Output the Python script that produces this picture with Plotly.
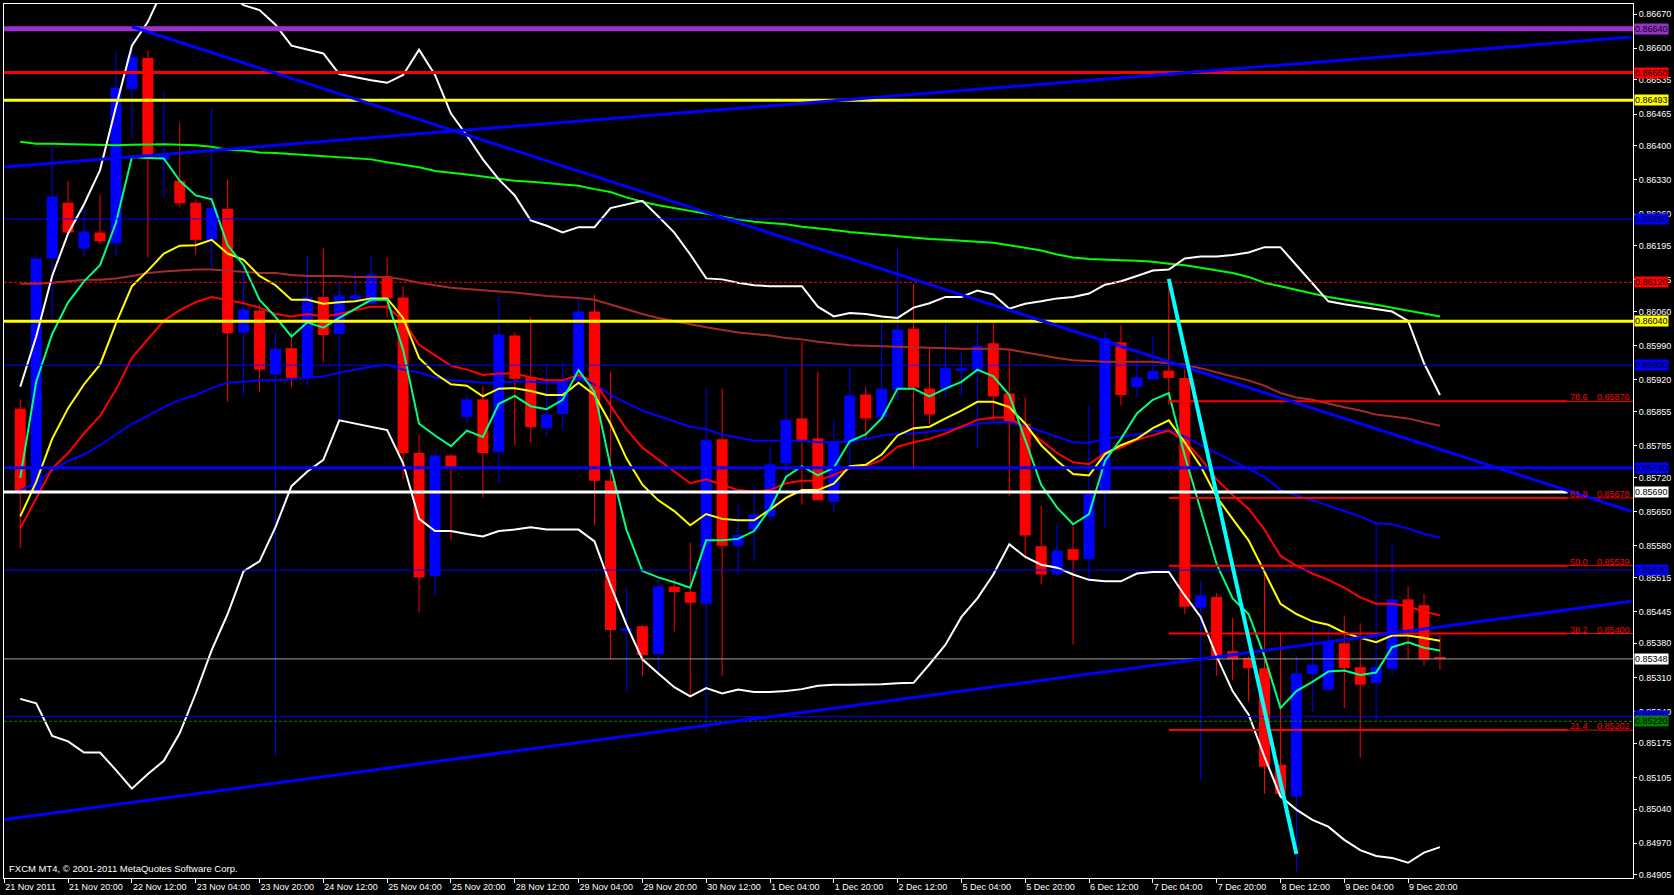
import plotly.graph_objects as go

# ---------------- data ----------------
tick_bars = list(range(-1, 88, 4))
tick_text = ["21 Nov 2011", "21 Nov 20:00", "22 Nov 12:00", "23 Nov 04:00", "23 Nov 20:00",
             "24 Nov 12:00", "25 Nov 04:00", "25 Nov 20:00", "28 Nov 12:00", "29 Nov 04:00",
             "29 Nov 20:00", "30 Nov 12:00", "1 Dec 04:00", "1 Dec 20:00", "2 Dec 12:00",
             "5 Dec 04:00", "5 Dec 20:00", "6 Dec 12:00", "7 Dec 04:00", "7 Dec 20:00",
             "8 Dec 12:00", "9 Dec 04:00", "9 Dec 20:00"]

bar_index = list(range(90))

opens = [0.85861, 0.85691, 0.86169, 0.86283, 0.86189, 0.86222, 0.86200, 0.86516, 0.86580, 0.86372,
         0.86328, 0.86283, 0.86207, 0.86271, 0.86017, 0.86062, 0.85931, 0.85985, 0.85924, 0.86090,
         0.86014, 0.86085, 0.86076, 0.86132, 0.86089, 0.85770, 0.85518, 0.85765, 0.85844, 0.85880,
         0.85772, 0.86011, 0.85925, 0.85821, 0.85850, 0.85919, 0.86060, 0.85713, 0.85407, 0.85415,
         0.85358, 0.85496, 0.85485, 0.85461, 0.85798, 0.85580, 0.85613, 0.85640, 0.85749, 0.85841,
         0.85800, 0.85670, 0.85791, 0.85890, 0.85843, 0.85900, 0.86025, 0.85902, 0.85902, 0.85940,
         0.85941, 0.85995, 0.85892, 0.85830, 0.85579, 0.85521, 0.85573, 0.85553, 0.85686, 0.85997,
         0.85905, 0.85921, 0.85939, 0.85924, 0.85453, 0.85475, 0.85364, 0.85350, 0.85329, 0.85131,
         0.85066, 0.85317, 0.85285, 0.85380, 0.85331, 0.85299, 0.85328, 0.85470, 0.85458, 0.85352]

highs = [0.85880, 0.86177, 0.86407, 0.86328, 0.86274, 0.86300, 0.86593, 0.86621, 0.86595, 0.86511,
         0.86448, 0.86290, 0.86477, 0.86331, 0.86150, 0.86074, 0.86018, 0.86019, 0.86175, 0.86191,
         0.86123, 0.86142, 0.86175, 0.86171, 0.86112, 0.85808, 0.85776, 0.85767, 0.85889, 0.85906,
         0.86092, 0.86017, 0.86049, 0.85954, 0.85958, 0.86094, 0.86095, 0.85935, 0.85496, 0.85418,
         0.85515, 0.85512, 0.85586, 0.85902, 0.85902, 0.85665, 0.85702, 0.85783, 0.85947, 0.85997,
         0.85937, 0.85837, 0.85944, 0.85906, 0.86039, 0.86190, 0.86117, 0.85986, 0.86036, 0.85978,
         0.86041, 0.86036, 0.85984, 0.85884, 0.85662, 0.85624, 0.85624, 0.85868, 0.86019, 0.86032,
         0.85967, 0.86009, 0.86127, 0.85942, 0.85508, 0.85483, 0.85432, 0.85353, 0.85532, 0.85402,
         0.85353, 0.85418, 0.85413, 0.85437, 0.85421, 0.85627, 0.85586, 0.85496, 0.85481, 0.85396]

lows = [0.85575, 0.85667, 0.86041, 0.86220, 0.86173, 0.86198, 0.86173, 0.86417, 0.86171, 0.86293,
        0.86274, 0.86177, 0.86150, 0.85875, 0.85889, 0.85895, 0.85150, 0.85906, 0.85908, 0.85957,
        0.85839, 0.86081, 0.86076, 0.86047, 0.85716, 0.85443, 0.85478, 0.85591, 0.85830, 0.85678,
        0.85708, 0.85786, 0.85791, 0.85802, 0.85817, 0.85908, 0.85622, 0.85347, 0.85282, 0.85312,
        0.85320, 0.85404, 0.85271, 0.85196, 0.85313, 0.85521, 0.85548, 0.85629, 0.85721, 0.85664,
        0.85673, 0.85649, 0.85743, 0.85797, 0.85841, 0.85879, 0.85736, 0.85830, 0.85884, 0.85887,
        0.85781, 0.85837, 0.85681, 0.85559, 0.85501, 0.85518, 0.85377, 0.85512, 0.85616, 0.85867,
        0.85882, 0.85921, 0.85868, 0.85440, 0.85098, 0.85313, 0.85304, 0.85261, 0.85071, 0.85066,
        0.84910, 0.85239, 0.85285, 0.85247, 0.85145, 0.85221, 0.85315, 0.85347, 0.85334, 0.85326]

closes = [0.85691, 0.86169, 0.86296, 0.86222, 0.86224, 0.86204, 0.86519, 0.86582, 0.86372, 0.86380,
          0.86282, 0.86207, 0.86272, 0.86016, 0.86064, 0.85941, 0.85983, 0.85924, 0.86090, 0.86012,
          0.86093, 0.86093, 0.86136, 0.86087, 0.85770, 0.85515, 0.85765, 0.85737, 0.85880, 0.85770,
          0.86013, 0.85922, 0.85823, 0.85849, 0.85919, 0.86060, 0.85713, 0.85407, 0.85411, 0.85356,
          0.85496, 0.85485, 0.85463, 0.85796, 0.85580, 0.85602, 0.85644, 0.85747, 0.85838, 0.85797,
          0.85673, 0.85792, 0.85888, 0.85841, 0.85902, 0.86023, 0.85904, 0.85849, 0.85944, 0.85944,
          0.85990, 0.85886, 0.85833, 0.85601, 0.85521, 0.85570, 0.85551, 0.85686, 0.86005, 0.85889,
          0.85925, 0.85938, 0.85924, 0.85455, 0.85478, 0.85353, 0.85347, 0.85329, 0.85127, 0.85071,
          0.85318, 0.85336, 0.85382, 0.85329, 0.85295, 0.85331, 0.85470, 0.85407, 0.85347, 0.85348]

ma_fast = [0.85719, 0.85916, 0.86014, 0.86079, 0.86122, 0.86155, 0.86242, 0.86377, 0.86375, 0.86374,
           0.86328, 0.86298, 0.86290, 0.86196, 0.86155, 0.86084, 0.86049, 0.86009, 0.86038, 0.86027,
           0.86047, 0.86066, 0.86084, 0.86084, 0.85982, 0.85830, 0.85806, 0.85784, 0.85816, 0.85803,
           0.85871, 0.85887, 0.85866, 0.85860, 0.85879, 0.85940, 0.85895, 0.85743, 0.85613, 0.85528,
           0.85515, 0.85505, 0.85494, 0.85591, 0.85591, 0.85594, 0.85610, 0.85656, 0.85721, 0.85743,
           0.85724, 0.85740, 0.85794, 0.85808, 0.85841, 0.85902, 0.85902, 0.85886, 0.85902, 0.85916,
           0.85941, 0.85927, 0.85889, 0.85797, 0.85705, 0.85658, 0.85624, 0.85645, 0.85754, 0.85799,
           0.85851, 0.85879, 0.85893, 0.85765, 0.85656, 0.85542, 0.85472, 0.85440, 0.85353, 0.85247,
           0.85282, 0.85301, 0.85322, 0.85324, 0.85315, 0.85320, 0.85372, 0.85382, 0.85371, 0.85365]

ma_yellow = [0.85640, 0.85711, 0.85799, 0.85862, 0.85911, 0.85951, 0.86036, 0.86112, 0.86144, 0.86179,
             0.86195, 0.86196, 0.86207, 0.86179, 0.86166, 0.86133, 0.86114, 0.86084, 0.86084, 0.86076,
             0.86079, 0.86081, 0.86087, 0.86087, 0.86047, 0.85965, 0.85933, 0.85911, 0.85908, 0.85886,
             0.85902, 0.85903, 0.85897, 0.85889, 0.85889, 0.85914, 0.85889, 0.85830, 0.85759, 0.85705,
             0.85673, 0.85651, 0.85622, 0.85645, 0.85635, 0.85632, 0.85632, 0.85654, 0.85678, 0.85694,
             0.85694, 0.85707, 0.85743, 0.85746, 0.85767, 0.85806, 0.85821, 0.85824, 0.85841, 0.85857,
             0.85875, 0.85875, 0.85864, 0.85830, 0.85786, 0.85754, 0.85727, 0.85724, 0.85768, 0.85786,
             0.85799, 0.85821, 0.85837, 0.85792, 0.85743, 0.85680, 0.85635, 0.85591, 0.85526, 0.85461,
             0.85440, 0.85425, 0.85418, 0.85402, 0.85391, 0.85382, 0.85396, 0.85396, 0.85391, 0.85385]

ma_red = [0.85616, 0.85678, 0.85738, 0.85770, 0.85810, 0.85846, 0.85900, 0.85965, 0.86003, 0.86041,
          0.86063, 0.86079, 0.86090, 0.86084, 0.86077, 0.86068, 0.86055, 0.86050, 0.86055, 0.86050,
          0.86055, 0.86063, 0.86070, 0.86070, 0.86041, 0.85992, 0.85971, 0.85949, 0.85941, 0.85930,
          0.85933, 0.85933, 0.85925, 0.85919, 0.85919, 0.85930, 0.85916, 0.85868, 0.85819, 0.85781,
          0.85756, 0.85732, 0.85708, 0.85716, 0.85705, 0.85694, 0.85691, 0.85694, 0.85708, 0.85713,
          0.85713, 0.85725, 0.85738, 0.85743, 0.85756, 0.85783, 0.85792, 0.85799, 0.85810, 0.85824,
          0.85838, 0.85843, 0.85843, 0.85821, 0.85795, 0.85770, 0.85751, 0.85747, 0.85770, 0.85781,
          0.85797, 0.85806, 0.85816, 0.85795, 0.85759, 0.85716, 0.85684, 0.85656, 0.85613, 0.85559,
          0.85539, 0.85523, 0.85510, 0.85494, 0.85474, 0.85461, 0.85461, 0.85456, 0.85445, 0.85437]

ma_blue = [0.85694, 0.85708, 0.85734, 0.85754, 0.85767, 0.85786, 0.85808, 0.85830, 0.85846, 0.85864,
           0.85879, 0.85889, 0.85903, 0.85914, 0.85916, 0.85919, 0.85919, 0.85921, 0.85925, 0.85927,
           0.85935, 0.85941, 0.85947, 0.85951, 0.85941, 0.85935, 0.85925, 0.85919, 0.85916, 0.85914,
           0.85914, 0.85916, 0.85916, 0.85914, 0.85914, 0.85924, 0.85911, 0.85889, 0.85873, 0.85857,
           0.85846, 0.85835, 0.85824, 0.85819, 0.85808, 0.85802, 0.85795, 0.85795, 0.85795, 0.85795,
           0.85792, 0.85792, 0.85794, 0.85799, 0.85806, 0.85810, 0.85810, 0.85814, 0.85817, 0.85823,
           0.85830, 0.85833, 0.85833, 0.85826, 0.85814, 0.85803, 0.85792, 0.85791, 0.85799, 0.85803,
           0.85808, 0.85814, 0.85817, 0.85803, 0.85786, 0.85770, 0.85754, 0.85738, 0.85721, 0.85694,
           0.85684, 0.85673, 0.85662, 0.85651, 0.85640, 0.85626, 0.85624, 0.85615, 0.85604, 0.85597]

ma_brown = [0.86117, 0.86117, 0.86119, 0.86122, 0.86125, 0.86125, 0.86128, 0.86133, 0.86139, 0.86142,
            0.86144, 0.86146, 0.86146, 0.86144, 0.86142, 0.86139, 0.86139, 0.86135, 0.86133, 0.86133,
            0.86133, 0.86131, 0.86131, 0.86131, 0.86126, 0.86119, 0.86114, 0.86109, 0.86106, 0.86103,
            0.86101, 0.86099, 0.86095, 0.86092, 0.86090, 0.86088, 0.86084, 0.86074, 0.86065, 0.86055,
            0.86047, 0.86040, 0.86034, 0.86028, 0.86023, 0.86017, 0.86014, 0.86011, 0.86006, 0.86003,
            0.85998, 0.85995, 0.85991, 0.85990, 0.85989, 0.85987, 0.85986, 0.85985, 0.85984, 0.85984,
            0.85984, 0.85984, 0.85982, 0.85976, 0.85971, 0.85965, 0.85960, 0.85958, 0.85957, 0.85957,
            0.85957, 0.85957, 0.85954, 0.85951, 0.85944, 0.85935, 0.85927, 0.85919, 0.85908, 0.85893,
            0.85884, 0.85879, 0.85871, 0.85864, 0.85857, 0.85849, 0.85845, 0.85841, 0.85833, 0.85826]

ma_lime = [0.86408, 0.86404, 0.86404, 0.86403, 0.86402, 0.86401, 0.86401, 0.86402, 0.86403, 0.86403,
           0.86402, 0.86401, 0.86398, 0.86391, 0.86390, 0.86386, 0.86385, 0.86383, 0.86380, 0.86378,
           0.86376, 0.86374, 0.86372, 0.86366, 0.86361, 0.86356, 0.86348, 0.86345, 0.86341, 0.86337,
           0.86333, 0.86328, 0.86326, 0.86323, 0.86320, 0.86318, 0.86311, 0.86305, 0.86294, 0.86285,
           0.86278, 0.86272, 0.86266, 0.86260, 0.86255, 0.86249, 0.86244, 0.86241, 0.86239, 0.86234,
           0.86231, 0.86227, 0.86223, 0.86220, 0.86217, 0.86214, 0.86211, 0.86209, 0.86207, 0.86205,
           0.86203, 0.86201, 0.86196, 0.86191, 0.86185, 0.86177, 0.86171, 0.86168, 0.86166, 0.86165,
           0.86164, 0.86162, 0.86158, 0.86155, 0.86150, 0.86144, 0.86139, 0.86131, 0.86119, 0.86112,
           0.86104, 0.86097, 0.86090, 0.86084, 0.86079, 0.86074, 0.86068, 0.86063, 0.86057, 0.86050]

bb_upper = [0.85906, 0.86009, 0.86133, 0.86220, 0.86280, 0.86350, 0.86480, 0.86605, 0.86654, 0.86724,
            0.86746, 0.86751, 0.86740, 0.86713, 0.86688, 0.86678, 0.86648, 0.86605, 0.86597, 0.86589,
            0.86547, 0.86540, 0.86534, 0.86529, 0.86545, 0.86597, 0.86545, 0.86466, 0.86421, 0.86372,
            0.86331, 0.86298, 0.86247, 0.86236, 0.86222, 0.86233, 0.86233, 0.86272, 0.86280, 0.86287,
            0.86255, 0.86222, 0.86177, 0.86128, 0.86126, 0.86119, 0.86114, 0.86112, 0.86112, 0.86112,
            0.86070, 0.86050, 0.86057, 0.86055, 0.86050, 0.86047, 0.86068, 0.86077, 0.86090, 0.86090,
            0.86103, 0.86095, 0.86066, 0.86076, 0.86081, 0.86087, 0.86090, 0.86097, 0.86115, 0.86122,
            0.86133, 0.86144, 0.86146, 0.86169, 0.86173, 0.86173, 0.86176, 0.86181, 0.86192, 0.86192,
            0.86155, 0.86117, 0.86081, 0.86075, 0.86070, 0.86064, 0.86060, 0.86041, 0.85954, 0.85889]

bb_lower = [0.85266, 0.85257, 0.85190, 0.85179, 0.85156, 0.85156, 0.85120, 0.85082, 0.85112, 0.85139,
            0.85196, 0.85277, 0.85366, 0.85440, 0.85528, 0.85548, 0.85618, 0.85702, 0.85732, 0.85756,
            0.85837, 0.85830, 0.85823, 0.85817, 0.85749, 0.85635, 0.85610, 0.85610, 0.85604, 0.85599,
            0.85610, 0.85613, 0.85618, 0.85613, 0.85613, 0.85613, 0.85589, 0.85499, 0.85418, 0.85347,
            0.85318, 0.85290, 0.85271, 0.85288, 0.85277, 0.85285, 0.85280, 0.85280, 0.85282, 0.85286,
            0.85293, 0.85295, 0.85295, 0.85295, 0.85296, 0.85298, 0.85299, 0.85337, 0.85377, 0.85434,
            0.85472, 0.85521, 0.85583, 0.85557, 0.85541, 0.85535, 0.85521, 0.85510, 0.85507, 0.85507,
            0.85523, 0.85526, 0.85526, 0.85478, 0.85434, 0.85353, 0.85282, 0.85234, 0.85147, 0.85066,
            0.85039, 0.85018, 0.85004, 0.84977, 0.84956, 0.84944, 0.84940, 0.84930, 0.84951, 0.84962]

price_ticks = [0.86670, 0.86600, 0.86535, 0.86465, 0.86400, 0.86330, 0.86260, 0.86195, 0.86125,
               0.86060, 0.85990, 0.85920, 0.85855, 0.85785, 0.85720, 0.85650, 0.85580, 0.85515,
               0.85445, 0.85380, 0.85310, 0.85240, 0.85175, 0.85105, 0.85040, 0.84970, 0.84905]

hline_prices = [0.86640, 0.86550, 0.86493, 0.86250, 0.86120, 0.86040, 0.85950, 0.85740,
                0.85690, 0.85530, 0.85348, 0.85230, 0.85220]

fibo_levels = ["78.6", "61.8", "50.0", "38.2", "21.4"]
fibo_prices = [0.85876, 0.85678, 0.85539, 0.85400, 0.85202]
fibo_bars = (72, 97)

trend_lines = [(-1, 0.850188, 101, 0.854662),
               (-1, 0.863563, 101, 0.866228),
               (7, 0.866438, 101, 0.856507)]
cyan_line = (72, 0.86127, 80, 0.84948)

copyright_text = "FXCM MT4, © 2001-2011 MetaQuotes Software Corp."

# ---------------- styles ----------------
X_RANGE = [-1.019, 101.1]
Y_RANGE = [0.848988, 0.866905]
FONT = "Liberation Sans, Arial, sans-serif"
BULL, BEAR = "#0000FF", "#FF0000"

hline_colors = ["#9932CC", "#FF0000", "#FFFF00", "#0000FF", "#FF0000", "#FFFF00", "#0000FF",
                "#0000FF", "#FFFFFF", "#0000FF", "#A0A0A0", "#0000FF", "#008000"]
hline_widths = [5, 3, 3, 1, 1, 3, 1, 3, 3, 1, 1, 1, 1]
hline_dash = ["solid", "solid", "solid", "solid", "3px,2px", "solid", "solid", "solid",
              "solid", "solid", "solid", "solid", "3px,2px"]
label_bg = ["#9932CC", "#FF0000", "#FFFF00", "#0000FF", "#FF0000", "#FFFF00", "#0000FF",
            "#0000FF", "#FFFFFF", "#0000FF", "#FFFFFF", "#0000FF", "#008000"]

fig = go.Figure()

# candles: wicks then bodies
for color, cond in ((BULL, lambda i: closes[i] >= opens[i]), (BEAR, lambda i: closes[i] < opens[i])):
    idx = [i for i in bar_index if cond(i)]
    wx, wy = [], []
    for i in idx:
        wx += [i, i, None]
        wy += [lows[i], highs[i], None]
    fig.add_trace(go.Scatter(x=wx, y=wy, mode="lines", line=dict(color=color, width=1),
                             hoverinfo="skip", showlegend=False))
    fig.add_trace(go.Bar(x=idx,
                         y=[abs(closes[i] - opens[i]) for i in idx],
                         base=[min(opens[i], closes[i]) for i in idx],
                         width=0.69, marker=dict(color=color, line=dict(width=0)),
                         hoverinfo="skip", showlegend=False))

# indicator lines
for series, color in ((ma_lime, "#00FF00"), (ma_brown, "#A52A2A"), (bb_upper, "#FFFFFF"),
                      (bb_lower, "#FFFFFF"), (ma_blue, "#0000FF"), (ma_red, "#FF0000"),
                      (ma_yellow, "#FFFF00"), (ma_fast, "#00FF7F")):
    fig.add_trace(go.Scatter(x=bar_index, y=series, mode="lines",
                             line=dict(color=color, width=2), hoverinfo="skip", showlegend=False))

shapes = []
# horizontal lines
for p, c, w, d in zip(hline_prices, hline_colors, hline_widths, hline_dash):
    x1 = fibo_bars[1] if c == "#FFFFFF" else X_RANGE[1]
    shapes.append(dict(type="line", xref="x", yref="y", x0=X_RANGE[0], x1=x1, y0=p, y1=p,
                       line=dict(color=c, width=w, dash=d), layer="above"))
# fibonacci levels
for p in fibo_prices:
    shapes.append(dict(type="line", xref="x", yref="y", x0=fibo_bars[0], x1=fibo_bars[1], y0=p, y1=p,
                       line=dict(color="#FF0000", width=2), layer="above"))
    shapes.append(dict(type="line", xref="x", yref="y", x0=fibo_bars[1], x1=X_RANGE[1], y0=p, y1=p,
                       line=dict(color="#FF0000", width=1), layer="above"))
# trend lines
for x0, y0, x1, y1 in trend_lines:
    shapes.append(dict(type="line", xref="x", yref="y", x0=x0, y0=y0, x1=x1, y1=y1,
                       line=dict(color="#0000FF", width=3), layer="above"))
shapes.append(dict(type="line", xref="x", yref="y", x0=cyan_line[0], y0=cyan_line[1],
                   x1=cyan_line[2], y1=cyan_line[3], line=dict(color="#00FFFF", width=4), layer="above"))

annotations = []
for lvl, p in zip(fibo_levels, fibo_prices):
    annotations.append(dict(xref="paper", yref="y", x=0.9602, y=p, text=lvl, showarrow=False,
                            xanchor="left", yanchor="bottom", yshift=-3,
                            font=dict(family=FONT, size=9, color="#FF0000")))
    annotations.append(dict(xref="paper", yref="y", x=0.9994, y=p, text=f"{p:.5f}", showarrow=False,
                            xanchor="right", yanchor="bottom", yshift=-3,
                            font=dict(family=FONT, size=9, color="#FF0000")))
for p, bg in zip(hline_prices, label_bg):
    annotations.append(dict(xref="paper", yref="y", x=1, y=p, text=f"{p:.5f}", showarrow=False,
                            xanchor="left", yanchor="middle", xshift=1, bgcolor=bg, borderpad=0,
                            font=dict(family=FONT, size=9, color="#000000")))
annotations.append(dict(xref="paper", yref="paper", x=0, y=0, text=copyright_text, showarrow=False,
                        xanchor="left", yanchor="bottom", xshift=3, yshift=2,
                        font=dict(family=FONT, size=9.5, color="#FFFFFF")))

fig.update_layout(
    width=1674, height=895,
    margin=dict(l=3, r=37, t=3, b=17),
    paper_bgcolor="#000000", plot_bgcolor="#000000",
    barmode="overlay", showlegend=False,
    shapes=shapes, annotations=annotations,
    xaxis=dict(range=X_RANGE, tickmode="array", tickvals=tick_bars, ticktext=tick_text,
               ticks="outside", ticklen=4, tickcolor="#FFFFFF", ticklabelposition="outside right",
               tickfont=dict(family=FONT, size=9, color="#FFFFFF"),
               showgrid=False, zeroline=False, showline=True, linecolor="#FFFFFF", linewidth=1,
               mirror=True, fixedrange=True),
    yaxis=dict(range=Y_RANGE, side="right", tickmode="array", tickvals=price_ticks,
               ticktext=[f"{v:.5f}" for v in price_ticks],
               ticks="outside", ticklen=3, tickcolor="#FFFFFF",
               tickfont=dict(family=FONT, size=9, color="#FFFFFF"),
               showgrid=False, zeroline=False, showline=True, linecolor="#FFFFFF", linewidth=1,
               mirror=True, fixedrange=True),
)

fig.write_html("out.html", config={"displayModeBar": False},
               post_script="document.body.style.margin='0';document.body.style.background='#000';")
